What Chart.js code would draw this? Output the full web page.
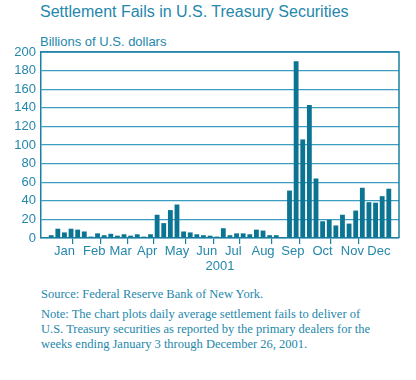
<!DOCTYPE html>
<html><head><meta charset="utf-8">
<script src="https://cdn.jsdelivr.net/npm/chart.js@4"></script>
<style>
html,body{margin:0;padding:0;background:#fff;}
body{width:416px;height:380px;position:relative;overflow:hidden;font-family:"Liberation Sans",Arial,sans-serif;}
#wrap{position:absolute;left:0;top:0;width:416px;height:280px;}
.t{position:absolute;white-space:nowrap;color:#2487ab;}
.s{font-family:"Liberation Serif","Times New Roman",serif;font-size:12.5px;line-height:15px;}
</style></head><body>
<div class="t" style="left:40px;top:2px;font-size:16px;line-height:20px">Settlement Fails in U.S. Treasury Securities</div>
<div class="t" style="left:40px;top:34px;font-size:13px;line-height:16px">Billions of U.S. dollars</div>
<div id="wrap"><canvas id="c" width="416" height="280"></canvas></div>
<div class="t s" style="left:41px;top:287px">Source: Federal Reserve Bank of New York.</div>
<div class="t s" style="left:41px;top:307px">Note: The chart plots daily average settlement fails to deliver of<br>U.S. Treasury securities as reported by the primary dealers for the<br>weeks ending January 3 through December 26, 2001.</div>
<script>
// Week-ending dates (MM-DD), 2001
const weeks = ['01-03','01-10','01-17','01-24','01-31','02-07','02-14','02-21','02-28','03-07','03-14','03-21','03-28','04-04','04-11','04-18','04-25','05-02','05-09','05-16','05-23','05-30','06-06','06-13','06-20','06-27','07-04','07-11','07-18','07-25','08-01','08-08','08-15','08-22','08-29','09-05','09-12','09-19','09-26','10-03','10-10','10-17','10-24','10-31','11-07','11-14','11-21','11-28','12-05','12-12','12-19','12-26'];
// Daily average settlement fails, billions of U.S. dollars
const fails = [3,10,6,10,9,7,1.5,5,3,4.5,2.5,4,2.5,4,1.5,4,25,16,30,36,7,6,4,3,2.5,1.5,10.5,3,5,5,4,9,8,3,3,1,51,190,106,143,64,18,19.5,13.5,25,15.5,29.5,54,38.5,38,45,53];
const monthLabels = ['Jan','Feb','Mar','Apr','May','Jun','Jul','Aug','Sep','Oct','Nov','Dec'];
const yTicks = [0,20,40,60,80,100,120,140,160,180,200];
const axisTitle = '2001';

const TEAL = '#1b80a4', GRID = '#3b9dbf', BAR = '#0c7493', TXT = '#2487ab';

// month groups derived from week dates
const monthOf = weeks.map(w => parseInt(w.slice(0,2),10)-1);
const centers = [], bounds = [];
monthLabels.forEach((m,mi) => {
  const idx = monthOf.map((v,i)=>v===mi?i:-1).filter(i=>i>=0);
  if (!idx.length) return;
  centers.push({value:(idx[0]+idx[idx.length-1])/2, label:m});
  if (mi>0) bounds.push(idx[0]-0.5);
});
const isBound = v => bounds.some(b=>Math.abs(b-v)<1e-6);

const frame = {
  id:'frame',
  afterDatasetsDraw(chart){
    const {ctx, chartArea:a} = chart;
    ctx.save();
    ctx.strokeStyle = TEAL; ctx.lineWidth = 1.5;
    ctx.beginPath();
    ctx.moveTo(a.left, a.top); ctx.lineTo(a.right, a.top); ctx.lineTo(a.right, a.bottom);
    ctx.stroke();
    ctx.restore();
  }
};

new Chart(document.getElementById('c'), {
  type:'bar',
  data:{ datasets:[{ data: fails.map((v,i)=>({x:i,y:v})), backgroundColor:BAR, borderWidth:0,
    categoryPercentage:1, barPercentage:0.73 }]},
  options:{
    responsive:false, animation:false, devicePixelRatio:1,
    layout:{padding:{left:0,top:52,right:17,bottom:0}},
    plugins:{legend:{display:false}, tooltip:{enabled:false}, title:{display:false}},
    scales:{
      x:{ type:'linear', min:-0.365, max:weeks.length-1+0.365,
        afterBuildTicks(s){ s.ticks = bounds.map(v=>({value:v})).concat(centers.map(c=>({value:c.value}))).sort((a,b)=>a.value-b.value); },
        afterFit(s){ s.height = 42; },
        ticks:{ autoSkip:false, maxRotation:0, padding:0, color:TXT, font:{family:'"Liberation Sans", Arial, sans-serif', size:13},
          callback(v){ const c = centers.find(c=>Math.abs(c.value-v)<1e-6); return c?c.label:''; } },
        grid:{ drawOnChartArea:false, drawTicks:true, tickLength:6, lineWidth:1.2,
          color(ctx){ return ctx.tick && isBound(ctx.tick.value) ? TEAL : 'rgba(0,0,0,0)'; } },
        border:{ display:true, color:TEAL, width:1.5 },
        title:{ display:true, text:axisTitle, color:TXT, font:{family:'"Liberation Sans", Arial, sans-serif', size:13}, padding:{top:0,bottom:6} }
      },
      y:{ min:0, max:200,
        afterBuildTicks(s){ s.ticks = yTicks.map(v=>({value:v})); },
        afterFit(s){ s.width = 41; },
        ticks:{ color:TXT, padding:5, font:{family:'"Liberation Sans", Arial, sans-serif', size:13} },
        grid:{ color:GRID, lineWidth:1.2, drawTicks:false },
        border:{ display:true, color:TEAL, width:1.5 }
      }
    }
  },
  plugins:[frame]
});
</script>
</body></html>
